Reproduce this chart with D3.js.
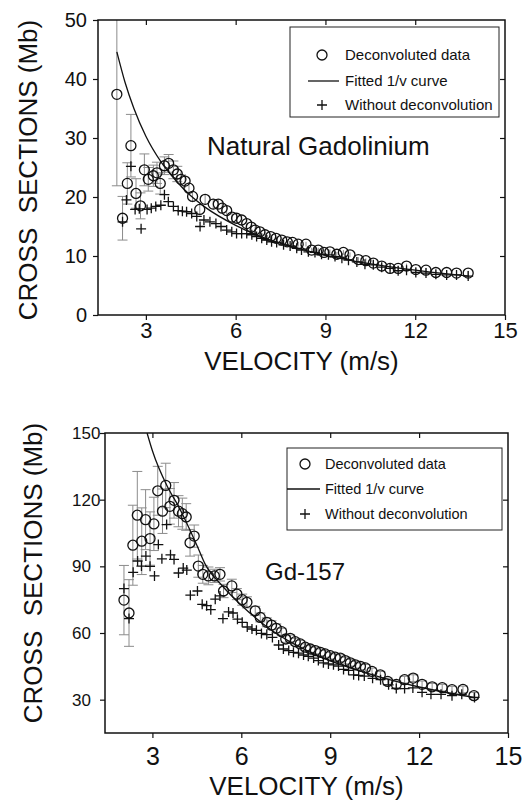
<!DOCTYPE html>
<html>
<head>
<meta charset="utf-8">
<script src="https://cdn.jsdelivr.net/npm/d3@7"></script>
<style>
  body { margin: 0; background: #fff; }
  svg { display: block; font-family: 'Liberation Sans', Arial, Helvetica, sans-serif; }
  .pre { white-space: pre; }
</style>
</head>
<body>
<svg id="chart" width="524" height="802"></svg>
<script>
// shared axis values
const velDomain = [1.4, 15];
const xTicks = [3, 6, 9, 12, 15];
const xTicksMirror = [3, 6, 9, 12];

// ---- Natural Gadolinium ----
const natYTicks = [0, 10, 20, 30, 40, 50];
const natYMirror = [10, 20, 30, 40];

const natDeconV = [2.03, 2.22, 2.38, 2.5, 2.67, 2.82, 2.95, 3.08, 3.25, 3.37, 3.48, 3.62, 3.76, 3.92, 4.05, 4.17, 4.31, 4.44, 4.56, 4.8,
  4.98, 5.25, 5.42, 5.55, 5.7, 5.88, 6.03, 6.2, 6.37, 6.52, 6.65, 6.81, 6.98, 7.17, 7.35, 7.54, 7.72, 7.9, 8.09, 8.35,
  8.54, 8.76, 8.95, 9.15, 9.38, 9.6, 9.82, 10.1, 10.35, 10.6, 10.88, 11.16, 11.43, 11.71, 12.02, 12.36, 12.69, 13.05, 13.38, 13.77];
const natDecon = [37.4, 16.4, 22.3, 28.7, 20.6, 18.5, 24.6, 23.0, 23.6, 24.1, 22.3, 25.3, 25.7, 24.6, 23.9, 23.0, 22.7, 21.5, 20.1, 17.9,
  19.6, 18.8, 18.8, 18.1, 17.7, 16.6, 16.4, 16.1, 15.5, 14.9, 14.4, 14.1, 13.6, 13.3, 13.0, 12.7, 12.4, 12.3, 12.0, 12.0,
  11.0, 11.0, 10.6, 10.7, 10.3, 10.6, 10.2, 9.4, 9.2, 8.8, 8.3, 7.9, 7.9, 8.3, 7.7, 7.6, 7.2, 7.2, 7.1, 7.1];
const natDeconErr = [15.5, 3.7, 3.5, 5.3, 2.5, 2.2, 2.7, 2.0, 1.8, 1.8, 1.8, 1.5, 1.5, 1.5, 1.3, 1.2, 1.2, 1.0, 1.0, 1.0,
  0.9, 0.9, 0.8, 0.8, 0.8, 0.7, 0.7, 0.7, 0.6, 0.6, 0.6, 0.5, 0.5, 0.5, 0.5, 0.5, 0.4, 0.4, 0.4, 0.4,
  0.4, 0.4, 0.4, 0.4, 0.4, 0.4, 0.4, 0.4, 0.4, 0.4, 0.4, 0.4, 0.4, 0.4, 0.4, 0.4, 0.4, 0.4, 0.4, 0.4];

const natRawV = [2.22, 2.35, 2.5, 2.64, 2.78, 2.84, 3.04, 3.18, 3.33, 3.5, 3.62, 3.75, 3.92, 4.08, 4.22, 4.36, 4.53, 4.7, 4.81, 4.94,
  5.14, 5.34, 5.51, 5.7, 5.87, 6.03, 6.2, 6.37, 6.54, 6.7, 6.87, 7.04, 7.2, 7.37, 7.6, 7.82, 8.04, 8.2, 8.43, 8.65,
  8.87, 9.1, 9.32, 9.55, 9.77, 10.05, 10.32, 10.6, 10.88, 11.16, 11.43, 11.71, 12.02, 12.36, 12.69, 13.05, 13.38, 13.77];
const natRaw = [15.8, 19.5, 25.2, 17.9, 18.0, 14.6, 17.9, 18.1, 18.4, 18.6, 20.4, 19.2, 18.4, 17.7, 17.6, 17.5, 17.2, 16.7, 15.0, 16.1,
  15.8, 15.5, 15.0, 14.4, 14.1, 13.8, 13.8, 13.8, 13.6, 13.3, 13.0, 12.7, 12.4, 12.3, 11.9, 11.7, 11.3, 11.0, 10.7, 10.6,
  10.3, 10.2, 9.9, 9.6, 9.3, 9.0, 8.6, 8.5, 8.1, 7.9, 7.5, 7.6, 7.2, 7.1, 6.9, 6.8, 6.8, 6.6];

const natFitV = [2.03, 2.3, 2.6, 3, 3.5, 4, 4.5, 5, 6, 7, 8, 9, 10, 11, 12, 13, 13.8];
const natFit = [44.6, 39.5, 35, 30.3, 26, 22.8, 20.2, 18.2, 15.2, 13, 11.4, 10.1, 9.1, 8.3, 7.6, 7.0, 6.6];

// ---- Gd-157 ----
const gdYTicks = [30, 60, 90, 120, 150];
const gdYMirror = [30, 60, 90, 120];

const gdDeconV = [2.04, 2.21, 2.34, 2.49, 2.64, 2.77, 2.92, 3.05, 3.18, 3.34, 3.45, 3.59, 3.73, 3.88, 4.01, 4.14, 4.27, 4.41, 4.55, 4.7,
  4.89, 5.09, 5.28, 5.4, 5.68, 5.85, 6.03, 6.19, 6.47, 6.64, 6.86, 7.02, 7.18, 7.36, 7.5, 7.65, 7.82, 7.99, 8.16, 8.33,
  8.5, 8.67, 8.83, 9.0, 9.17, 9.34, 9.51, 9.68, 9.85, 10.02, 10.19, 10.41, 10.69, 10.94, 11.23, 11.51, 11.8, 12.1, 12.44, 12.78,
  13.11, 13.48, 13.85];
const gdDecon = [74.8, 69.0, 99.5, 113.0, 101.3, 111.0, 102.5, 109.1, 124.0, 114.8, 126.4, 117.0, 119.7, 114.8, 113.7, 112.2, 100.6, 103.6, 90.1, 86.4,
  85.7, 85.7, 86.4, 78.9, 81.2, 77.5, 75.0, 73.8, 70.0, 67.0, 64.8, 63.5, 62.1, 60.6, 57.3, 57.6, 56.1, 55.1, 53.6, 52.8,
  52.1, 51.3, 50.6, 49.8, 49.1, 48.7, 47.6, 46.6, 45.7, 45.0, 44.3, 42.7, 41.2, 38.2, 36.9, 39.0, 39.7, 36.9, 35.8, 35.4,
  34.5, 34.6, 31.8];
const gdDeconErr = [15.6, 15, 18, 19.7, 15, 13.5, 12, 12, 11, 10, 10, 8, 8, 7, 7, 6, 6, 5, 5, 4,
  4, 3, 3, 3, 3, 2.5, 2.5, 2.5, 2, 2, 2, 2, 2, 1.5, 1.5, 1.5, 1.5, 1.5, 1.5, 1.5,
  1.5, 1.5, 1.5, 1.5, 1.5, 1.5, 1.5, 1.5, 1.5, 1.5, 1.5, 1.5, 1.5, 1.5, 1.5, 1.5, 1.5, 1.5, 1.5, 1.5,
  1.5, 1.5, 1.5];

const gdRawV = [2.04, 2.21, 2.35, 2.5, 2.63, 2.78, 2.92, 3.07, 3.2, 3.32, 3.48, 3.61, 3.73, 3.88, 4.04, 4.16, 4.28, 4.52, 4.68, 4.83,
  4.97, 5.12, 5.28, 5.38, 5.57, 5.72, 5.87, 6.03, 6.2, 6.36, 6.51, 6.68, 6.86, 7.05, 7.26, 7.42, 7.6, 7.76, 7.93, 8.1,
  8.26, 8.44, 8.6, 8.77, 8.94, 9.11, 9.28, 9.45, 9.62, 9.79, 9.96, 10.15, 10.43, 10.7, 10.97, 11.23, 11.51, 11.79, 12.1, 12.4,
  12.74, 13.11, 13.44, 13.87];
const gdRaw = [80.0, 66.5, 87.3, 92.4, 90.1, 94.6, 90.0, 85.7, 99.8, 93.4, 108.8, 95.2, 93.1, 87.0, 89.2, 88.3, 77.0, 78.9, 72.9, 72.3,
  70.5, 75.2, 76.7, 66.5, 69.5, 69.0, 66.2, 64.8, 62.7, 61.8, 61.2, 59.8, 59.3, 58.0, 54.6, 52.8, 52.1, 51.3, 50.9, 50.1,
  49.5, 48.7, 47.6, 46.6, 46.1, 45.7, 45.1, 43.6, 43.2, 41.2, 40.9, 40.6, 39.6, 39.0, 36.7, 35.0, 35.0, 35.3, 33.3, 32.4,
  32.4, 31.8, 32.4, 31.0];

const gdFitV = [2.82, 3.0, 3.5, 3.88, 4.5, 4.78, 5.34, 6.0, 7, 8, 9, 10, 11, 12, 13, 13.85];
const gdFit = [150, 142, 126, 117, 99.5, 91, 81.5, 72.5, 61.5, 53.5, 47.5, 43, 39, 35.7, 33, 31];

const legendLabels = ['Deconvoluted data', 'Fitted 1/v curve', 'Without deconvolution'];

const svg = d3.select('#chart');

function drawPanel(p) {
  const g = svg.append('g');
  const x = d3.scaleLinear().domain(velDomain).range([p.left, p.right]);
  const y = d3.scaleLinear().domain(p.yDomain).range([p.bottom, p.top]);

  g.append('clipPath').attr('id', 'clip-' + p.id)
    .append('rect')
    .attr('x', p.left).attr('y', p.top)
    .attr('width', p.right - p.left).attr('height', p.bottom - p.top);

  const plot = g.append('g').attr('clip-path', `url(#clip-${p.id})`);

  // error bars on the deconvoluted points
  const decon = d3.zip(p.deconV, p.decon, p.deconErr);
  const err = plot.append('g').attr('stroke', '#8c8c8c').attr('stroke-width', 1);
  err.selectAll('line.v').data(decon).enter().append('line')
    .attr('x1', d => x(d[0])).attr('x2', d => x(d[0]))
    .attr('y1', d => y(d[1] - d[2])).attr('y2', d => y(d[1] + d[2]));
  [-1, 1].forEach(s => {
    err.selectAll('line.c' + s).data(decon.filter(d => d[2] > 1.2)).enter().append('line')
      .attr('x1', d => x(d[0]) - 5).attr('x2', d => x(d[0]) + 5)
      .attr('y1', d => y(d[1] + s * d[2])).attr('y2', d => y(d[1] + s * d[2]));
  });

  // fitted 1/v curve
  plot.append('path')
    .datum(d3.zip(p.fitV, p.fit))
    .attr('d', d3.line().x(d => x(d[0])).y(d => y(d[1])).curve(d3.curveMonotoneX))
    .attr('fill', 'none')
    .attr('stroke', '#111')
    .attr('stroke-width', 1.3);

  // without deconvolution
  plot.selectAll('path.plus').data(d3.zip(p.rawV, p.raw)).enter().append('path')
    .attr('class', 'plus')
    .attr('d', d => `M${x(d[0]) - 5},${y(d[1])}h10M${x(d[0])},${y(d[1]) - 5}v10`)
    .attr('stroke', '#111')
    .attr('stroke-width', 1.3);

  // deconvoluted data
  plot.selectAll('circle').data(decon).enter().append('circle')
    .attr('cx', d => x(d[0])).attr('cy', d => y(d[1]))
    .attr('r', 5)
    .attr('fill', 'none')
    .attr('stroke', '#111')
    .attr('stroke-width', 1.3);

  // axes
  const xAxis = g.append('g')
    .attr('transform', `translate(0, ${p.bottom})`)
    .call(d3.axisBottom(x).tickValues(xTicks).tickSize(5).tickSizeOuter(0).tickPadding(p.xPad));
  xAxis.selectAll('text').attr('font-size', p.xFont).attr('fill', '#111');

  const yAxis = g.append('g')
    .attr('transform', `translate(${p.left}, 0)`)
    .call(d3.axisLeft(y).tickValues(p.yTicks).tickSize(5).tickSizeOuter(0).tickPadding(6));
  yAxis.selectAll('text').attr('font-size', p.yFont).attr('fill', '#111');
  if (p.yLabelsStart) {
    yAxis.selectAll('text').attr('text-anchor', 'start').attr('x', p.yLabelsStart - p.left);
  }

  g.append('g').attr('transform', `translate(0, ${p.top})`)
    .call(d3.axisTop(x).tickValues(xTicksMirror).tickSize(-5).tickSizeOuter(0).tickFormat(''));
  g.append('g').attr('transform', `translate(${p.right}, 0)`)
    .call(d3.axisRight(y).tickValues(p.yMirror).tickSize(-5).tickSizeOuter(0).tickFormat(''));

  g.selectAll('.domain').remove();
  g.selectAll('.tick line').attr('stroke', '#111').attr('stroke-width', 1.2);

  g.append('rect')
    .attr('x', p.left).attr('y', p.top)
    .attr('width', p.right - p.left).attr('height', p.bottom - p.top)
    .attr('fill', 'none').attr('stroke', '#111').attr('stroke-width', 1.5);

  // axis titles
  g.append('text')
    .attr('class', 'pre')
    .attr('transform', `translate(${p.yTitle[0]}, ${p.yTitle[1]}) rotate(-90)`)
    .attr('text-anchor', 'middle')
    .attr('font-size', 26)
    .attr('fill', '#111')
    .text('CROSS  SECTIONS (Mb)');

  g.append('text')
    .attr('x', (p.left + p.right) / 2)
    .attr('y', p.xTitleY)
    .attr('text-anchor', 'middle')
    .attr('font-size', 26)
    .attr('fill', '#111')
    .text('VELOCITY (m/s)');

  // annotation
  g.append('text')
    .attr('x', p.note[0]).attr('y', p.note[1])
    .attr('font-size', p.noteFont)
    .attr('fill', '#111')
    .text(p.noteText);

  // legend
  const L = p.legend;
  const lg = g.append('g');
  lg.append('rect')
    .attr('x', L.x).attr('y', L.y).attr('width', L.w).attr('height', L.h)
    .attr('fill', 'none').attr('stroke', '#222').attr('stroke-width', 1);
  lg.append('circle')
    .attr('cx', L.sym).attr('cy', L.rows[0] - 5).attr('r', 5)
    .attr('fill', 'none').attr('stroke', '#111').attr('stroke-width', 1.3);
  lg.append('line')
    .attr('x1', L.line[0]).attr('x2', L.line[1])
    .attr('y1', L.rows[1] - 5).attr('y2', L.rows[1] - 5)
    .attr('stroke', '#111').attr('stroke-width', 1.3);
  lg.append('path')
    .attr('d', `M${L.sym - 5},${L.rows[2] - 5}h10M${L.sym},${L.rows[2] - 10}v10`)
    .attr('stroke', '#111').attr('stroke-width', 1.3);
  lg.selectAll('text').data(legendLabels).enter().append('text')
    .attr('x', L.text)
    .attr('y', (d, i) => L.rows[i])
    .attr('font-size', L.font)
    .attr('fill', '#111')
    .text(d => d);
}

drawPanel({
  id: 'nat', left: 98, right: 505, top: 20, bottom: 315,
  yDomain: [0, 50], yTicks: natYTicks, yMirror: natYMirror,
  deconV: natDeconV, decon: natDecon, deconErr: natDeconErr,
  rawV: natRawV, raw: natRaw, fitV: natFitV, fit: natFit,
  xFont: 22, xPad: 2, yFont: 20,
  yTitle: [37, 170], xTitleY: 370,
  note: [207, 155], noteFont: 26, noteText: 'Natural Gadolinium',
  legend: { x: 290, y: 27, w: 209, h: 90, sym: 322, line: [308, 339], text: 345, rows: [60, 86, 110], font: 15 }
});

drawPanel({
  id: 'gd', left: 105, right: 508, top: 433, bottom: 733,
  yDomain: [15, 150], yTicks: gdYTicks, yMirror: gdYMirror,
  deconV: gdDeconV, decon: gdDecon, deconErr: gdDeconErr,
  rawV: gdRawV, raw: gdRaw, fitV: gdFitV, fit: gdFit,
  xFont: 25, xPad: 9, yFont: 17, yLabelsStart: 72,
  yTitle: [42, 573], xTitleY: 795,
  note: [265, 580], noteFont: 24, noteText: 'Gd-157',
  legend: { x: 287, y: 448, w: 215, h: 82, sym: 305, line: [287, 320], text: 325, rows: [469, 494, 519], font: 14.5 }
});
</script>
</body>
</html>
